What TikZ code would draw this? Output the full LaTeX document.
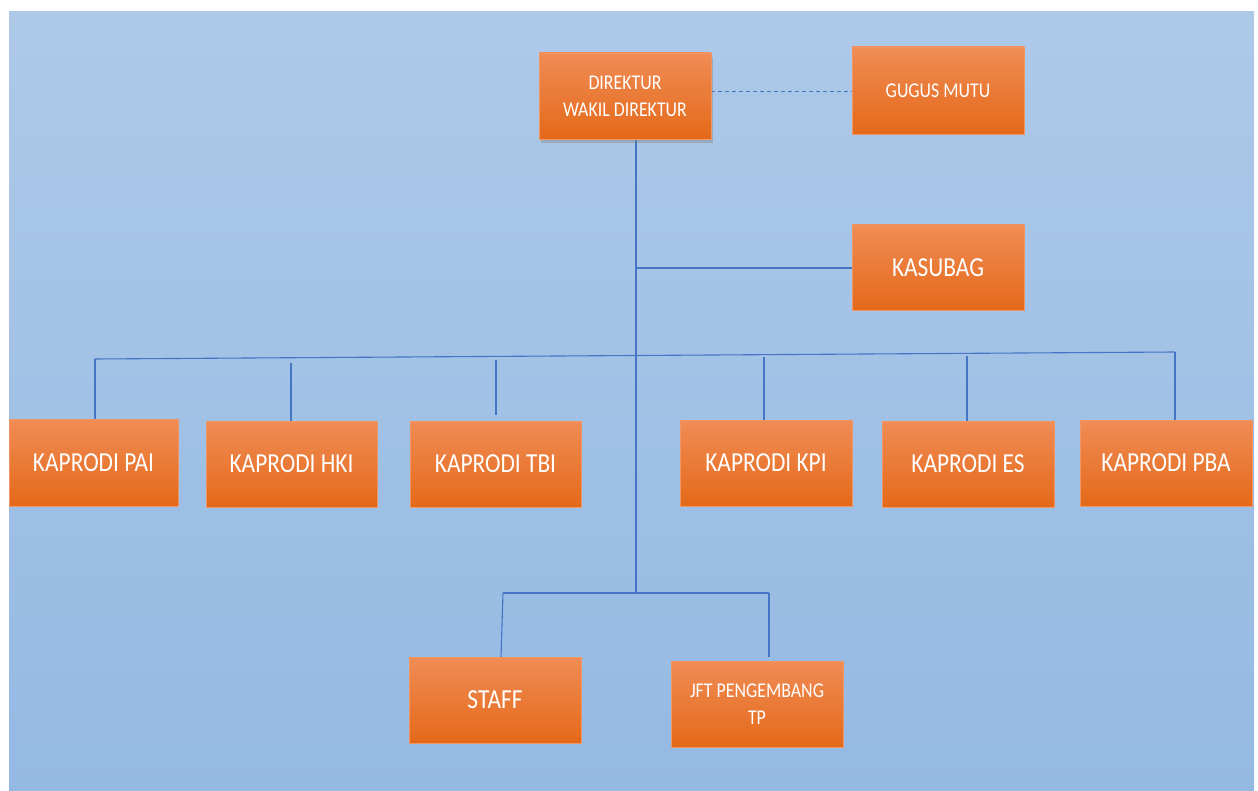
\documentclass[tikz,border=0pt]{standalone}
\usepackage{fontspec}
\setmainfont{Carlito}[FakeStretch=0.85]
\usetikzlibrary{shadows,backgrounds}
\definecolor{bgtop}{RGB}{174,201,232}
\definecolor{bgbot}{RGB}{148,185,227}
\definecolor{ortop}{RGB}{240,140,85}
\definecolor{ormid}{RGB}{243,126,45}
\definecolor{orbot}{RGB}{228,105,25}
\definecolor{orline}{RGB}{240,150,100}
\definecolor{conn}{RGB}{70,116,198}
\tikzset{
  obox/.style={rectangle, draw=orline, line width=0.8pt, top color=ortop, middle color=ormid, bottom color=orbot,
    minimum width=172pt, minimum height=86pt, inner sep=0pt, text=white, align=center},
  bigtext/.style={font=\fontsize{27.5}{32}\selectfont},
  smalltext/.style={font=\fontsize{21}{27}\selectfont},
  conline/.style={draw=conn, line width=1.1pt},
}
\begin{document}
\begin{tikzpicture}[x=1pt,y=-1pt]
\useasboundingbox (0,0) rectangle (1258,791);
% nodes
\node[obox, smalltext, drop shadow={shadow xshift=2pt, shadow yshift=-4pt, opacity=0.4}] (dir) at (625,96) {DIREKTUR\\WAKIL DIREKTUR};
\node[obox, smalltext, minimum height=87pt] (gugus) at (938,90.5) {GUGUS MUTU};
\node[obox, bigtext, minimum height=85pt] (kasubag) at (938,267.5) {KASUBAG};
\node[obox, bigtext, minimum width=169pt, minimum height=87pt] (pai) at (93.5,462.5) {KAPRODI PAI};
\node[obox, bigtext, minimum width=171pt] (hki) at (291.5,464) {KAPRODI HKI};
\node[obox, bigtext, minimum width=171pt] (tbi) at (495.5,464) {KAPRODI TBI};
\node[obox, bigtext] (kpi) at (766,463) {KAPRODI KPI};
\node[obox, bigtext] (es) at (968,464) {KAPRODI ES};
\node[obox, bigtext] (pba) at (1166,463) {KAPRODI PBA};
\node[obox, bigtext] (staff) at (495,700) {STAFF};
\node[obox, smalltext] (jft) at (757,704) {JFT PENGEMBANG\\TP};
% coordinates
\coordinate (dy) at (0,92);
\coordinate (tt) at (636,139);
\coordinate (ks) at (636,268);
\coordinate (tb) at (636,593);
\coordinate (b1) at (95,359);
\coordinate (b6) at (1175,352);
\coordinate (h1) at (291,363);
\coordinate (t2) at (496,360);
\coordinate (t3) at (496,415);
\coordinate (k1) at (764,357);
\coordinate (e1) at (967,356);
\coordinate (s1) at (503,593);
\coordinate (s2) at (501,657);
\coordinate (j1) at (769,593);
\coordinate (j2) at (769,657);
\begin{scope}[on background layer]
  \fill[white] (0,0) rectangle (1258,791);
  \shade[top color=bgtop, bottom color=bgbot] (9,12) rectangle (1254,791);
  \draw[conline, dash pattern=on 4pt off 3pt, line width=1pt] (dir.east |- dy) -- (gugus.west |- dy);
  \draw[conline] (tt) -- (tb);
  \draw[conline] (ks) -- (kasubag.west |- ks);
  \draw[conline] (b1) -- (b6);
  \draw[conline] (b1) -- (b1 |- pai.north);
  \draw[conline] (h1) -- (h1 |- hki.north);
  \draw[conline] (t2) -- (t3);
  \draw[conline] (k1) -- (k1 |- kpi.north);
  \draw[conline] (e1) -- (e1 |- es.north);
  \draw[conline] (b6) -- (b6 |- pba.north);
  \draw[conline] (s1) -- (j1);
  \draw[conline] (s1) -- (s2);
  \draw[conline] (j1) -- (j2);
\end{scope}
\end{tikzpicture}
\end{document}
